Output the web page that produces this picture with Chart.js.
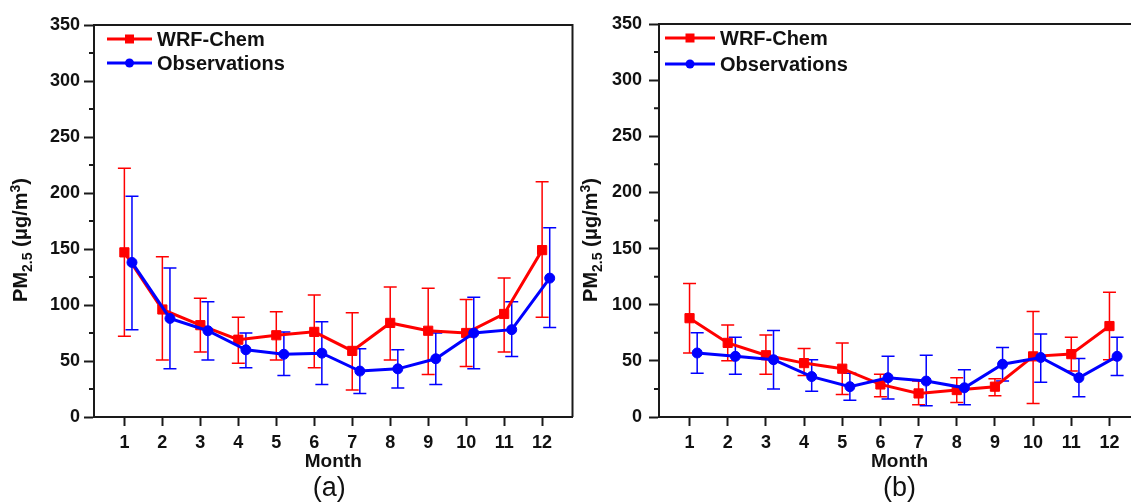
<!DOCTYPE html>
<html><head><meta charset="utf-8">
<script src="https://cdn.jsdelivr.net/npm/chart.js@4.4.1/dist/chart.umd.min.js"></script>
<style>
html,body{margin:0;padding:0;background:#fff;overflow:hidden;width:1131px;height:502px;position:relative;}
canvas{position:absolute;top:0;}
#ca{left:0;} #cb{left:578px;}
</style></head><body>
<canvas id="ca" width="580" height="502"></canvas>
<canvas id="cb" width="580" height="502"></canvas>
<script>
const months = [1,2,3,4,5,6,7,8,9,10,11,12];
const yTicks = [0,50,100,150,200,250,300,350];
const yMinorTicks = [25,75,125,175,225,275,325];
const seriesNames = ['WRF-Chem','Observations'];
const xTitle = 'Month';
const yTitleMain = 'PM';
const yTitleSub = '2.5';
const yTitleUnit = ' (\u03bcg/m';
const yTitleSup = '3';
const yTitleEnd = ')';

// panel (a)
const wrfA     = [147, 96, 82, 69, 73, 76, 59, 84, 77, 75, 92, 149];
const wrfAHigh = [222,143,106, 89, 94,109, 93,116,115,105,124, 210];
const wrfALow  = [ 72, 51, 58, 48, 51, 44, 24, 51, 38, 45, 58,  89];
const obsA     = [138, 88, 77, 60, 56, 57, 41, 43, 52, 75, 78, 124];
const obsAHigh = [197,133,103, 75, 76, 85, 61, 60, 75,107,103, 169];
const obsALow  = [ 78, 43, 51, 44, 37, 29, 21, 26, 29, 43, 54,  80];

// panel (b)
const wrfB     = [ 88, 66, 55, 48, 43, 29, 21, 24, 27, 54, 56, 81];
const wrfBHigh = [119, 82, 73, 61, 66, 38, 32, 35, 34, 94, 71,111];
const wrfBLow  = [ 57, 50, 38, 37, 20, 18, 11, 13, 19, 12, 41, 51];
const obsB     = [ 57, 54, 51, 36, 27, 35, 32, 26, 47, 53, 35, 54];
const obsBHigh = [ 75, 71, 77, 51, 39, 54, 55, 42, 62, 74, 52, 71];
const obsBLow  = [ 39, 38, 25, 23, 15, 16, 10, 11, 32, 31, 18, 37];

const RED = '#ff0000', BLUE = '#0000ff', INK = '#111111', AXIS = '#1a1a1a';
const FONT = 'Liberation Sans';
const obsShift = 0.2;

const errorBars = {
  id: 'errorBars',
  beforeDatasetsDraw(chart) {
    const ctx = chart.ctx, xs = chart.scales.x, ys = chart.scales.y;
    chart.data.datasets.forEach(ds => {
      ctx.save();
      ctx.strokeStyle = ds.borderColor;
      ctx.lineWidth = 1.5;
      ds.data.forEach((p, i) => {
        const x = xs.getPixelForValue(p.x);
        const y1 = ys.getPixelForValue(ds.errHigh[i]);
        const y2 = ys.getPixelForValue(ds.errLow[i]);
        ctx.beginPath();
        ctx.moveTo(x, y1); ctx.lineTo(x, y2);
        ctx.moveTo(x - 6.5, y1); ctx.lineTo(x + 6.5, y1);
        ctx.moveTo(x - 6.5, y2); ctx.lineTo(x + 6.5, y2);
        ctx.stroke();
      });
      ctx.restore();
    });
  }
};

const decorations = {
  id: 'decorations',
  afterDraw(chart, args, opts) {
    const ctx = chart.ctx, a = chart.chartArea, ys = chart.scales.y;
    ctx.save();
    ctx.strokeStyle = AXIS; ctx.lineWidth = 2;
    ctx.beginPath();
    ctx.moveTo(a.left, a.top); ctx.lineTo(a.right, a.top); ctx.lineTo(a.right, a.bottom);
    ctx.stroke();
    ctx.beginPath();
    yMinorTicks.forEach(v => {
      const y = ys.getPixelForValue(v);
      ctx.moveTo(a.left - 5, y); ctx.lineTo(a.left, y);
    });
    ctx.stroke();
    chart.data.datasets.forEach((ds, i) => {
      const y = opts.legendY[i];
      const x0 = a.left + opts.legendLine[0], x1 = a.left + opts.legendLine[1];
      const xm = (x0 + x1) / 2;
      ctx.strokeStyle = ds.borderColor; ctx.fillStyle = ds.borderColor; ctx.lineWidth = 3;
      ctx.beginPath(); ctx.moveTo(x0, y); ctx.lineTo(x1, y); ctx.stroke();
      ctx.beginPath();
      if (ds.pointStyle === 'rect') ctx.rect(xm - 4.5, y - 4.5, 9, 9);
      else ctx.arc(xm, y, 4.5, 0, Math.PI * 2);
      ctx.fill();
      ctx.fillStyle = INK;
      ctx.font = 'bold 20px "' + FONT + '"';
      ctx.textAlign = 'left'; ctx.textBaseline = 'middle';
      ctx.fillText(ds.label, a.left + opts.legendText, y + 1);
    });
    ctx.fillStyle = INK;
    ctx.font = '27px "Liberation Sans"';
    ctx.textAlign = 'center'; ctx.textBaseline = 'middle';
    ctx.fillText(opts.panelLabel, (a.left + Math.min(a.right, chart.width)) / 2 + opts.panelLabelDx, 489);
    ctx.translate(opts.yTitleX, 240);
    ctx.rotate(-Math.PI / 2);
    const big = 'bold 20px "' + FONT + '"', small = 'bold 14px "' + FONT + '"';
    const parts = [[yTitleMain, big, 0], [yTitleSub, small, 5], [yTitleUnit, big, 0], [yTitleSup, small, -7], [yTitleEnd, big, 0]];
    let total = 0;
    parts.forEach(p => { ctx.font = p[1]; p.push(ctx.measureText(p[0]).width); total += p[3]; });
    let x = -total / 2;
    ctx.textAlign = 'left'; ctx.textBaseline = 'alphabetic';
    parts.forEach(p => { ctx.font = p[1]; ctx.fillText(p[0], x, p[2]); x += p[3]; });
    ctx.restore();
  }
};

function makePanel(id, wrf, wrfHi, wrfLo, obs, obsHi, obsLo, cfg) {
  const gridOpts = (len) => ({display: true, drawOnChartArea: false, drawTicks: true, tickLength: len, tickWidth: 2, tickColor: AXIS, color: AXIS});
  return new Chart(document.getElementById(id), {
    type: 'line',
    data: {
      datasets: [
        {label: seriesNames[0], data: months.map((m, i) => ({x: m, y: wrf[i]})), errHigh: wrfHi, errLow: wrfLo,
         borderColor: RED, backgroundColor: RED, borderWidth: 3, pointStyle: 'rect', pointRadius: 6.5, pointBorderWidth: 1,
         pointBackgroundColor: RED, pointBorderColor: RED, tension: 0, order: 2},
        {label: seriesNames[1], data: months.map((m, i) => ({x: m + obsShift, y: obs[i]})), errHigh: obsHi, errLow: obsLo,
         borderColor: BLUE, backgroundColor: BLUE, borderWidth: 3, pointStyle: 'circle', pointRadius: 5, pointBorderWidth: 1,
         pointBackgroundColor: BLUE, pointBorderColor: BLUE, tension: 0, order: 1}
      ]
    },
    options: {
      responsive: false, animation: false, devicePixelRatio: 1,
      layout: {padding: {left: 0, top: cfg.top, right: cfg.right, bottom: 0}},
      plugins: {legend: {display: false}, tooltip: {enabled: false}, decorations: cfg.deco},
      scales: {
        x: {
          type: 'linear', min: 0.2, max: 12.8,
          afterBuildTicks: s => { s.ticks = months.map(v => ({value: v})); },
          afterFit: s => { s.height = 85; },
          grid: gridOpts(9),
          border: {display: true, color: AXIS, width: 2},
          ticks: {font: {family: FONT, weight: 'bold', size: 18}, color: INK, padding: 6, maxRotation: 0, autoSkip: false},
          title: {display: true, text: xTitle, font: {family: FONT, weight: 'bold', size: 19}, color: INK, padding: {top: 0, bottom: 29}}
        },
        y: {
          type: 'linear', min: 0, max: 350,
          afterBuildTicks: s => { s.ticks = yTicks.map(v => ({value: v})); },
          afterFit: s => { s.width = cfg.axisWidth; },
          grid: gridOpts(10),
          border: {display: true, color: AXIS, width: 2},
          ticks: {font: {family: FONT, weight: 'bold', size: 18}, color: INK, padding: cfg.yTickPad}
        }
      }
    },
    plugins: [errorBars, decorations]
  });
}

makePanel('ca', wrfA, wrfAHigh, wrfALow, obsA, obsAHigh, obsALow, {
  top: 25, right: 7, axisWidth: 94, yTickPad: 4,
  deco: {legendY: [39, 63], legendLine: [13, 58], legendText: 63, panelLabel: '(a)', panelLabelDx: -4, yTitleX: 27}
});
makePanel('cb', wrfB, wrfBHigh, wrfBLow, obsB, obsBHigh, obsBLow, {
  top: 24, right: 18, axisWidth: 81, yTickPad: 7,
  deco: {legendY: [38, 64], legendLine: [6, 56], legendText: 61, panelLabel: '(b)', panelLabelDx: 0, yTitleX: 19}
});
</script>
</body></html>
